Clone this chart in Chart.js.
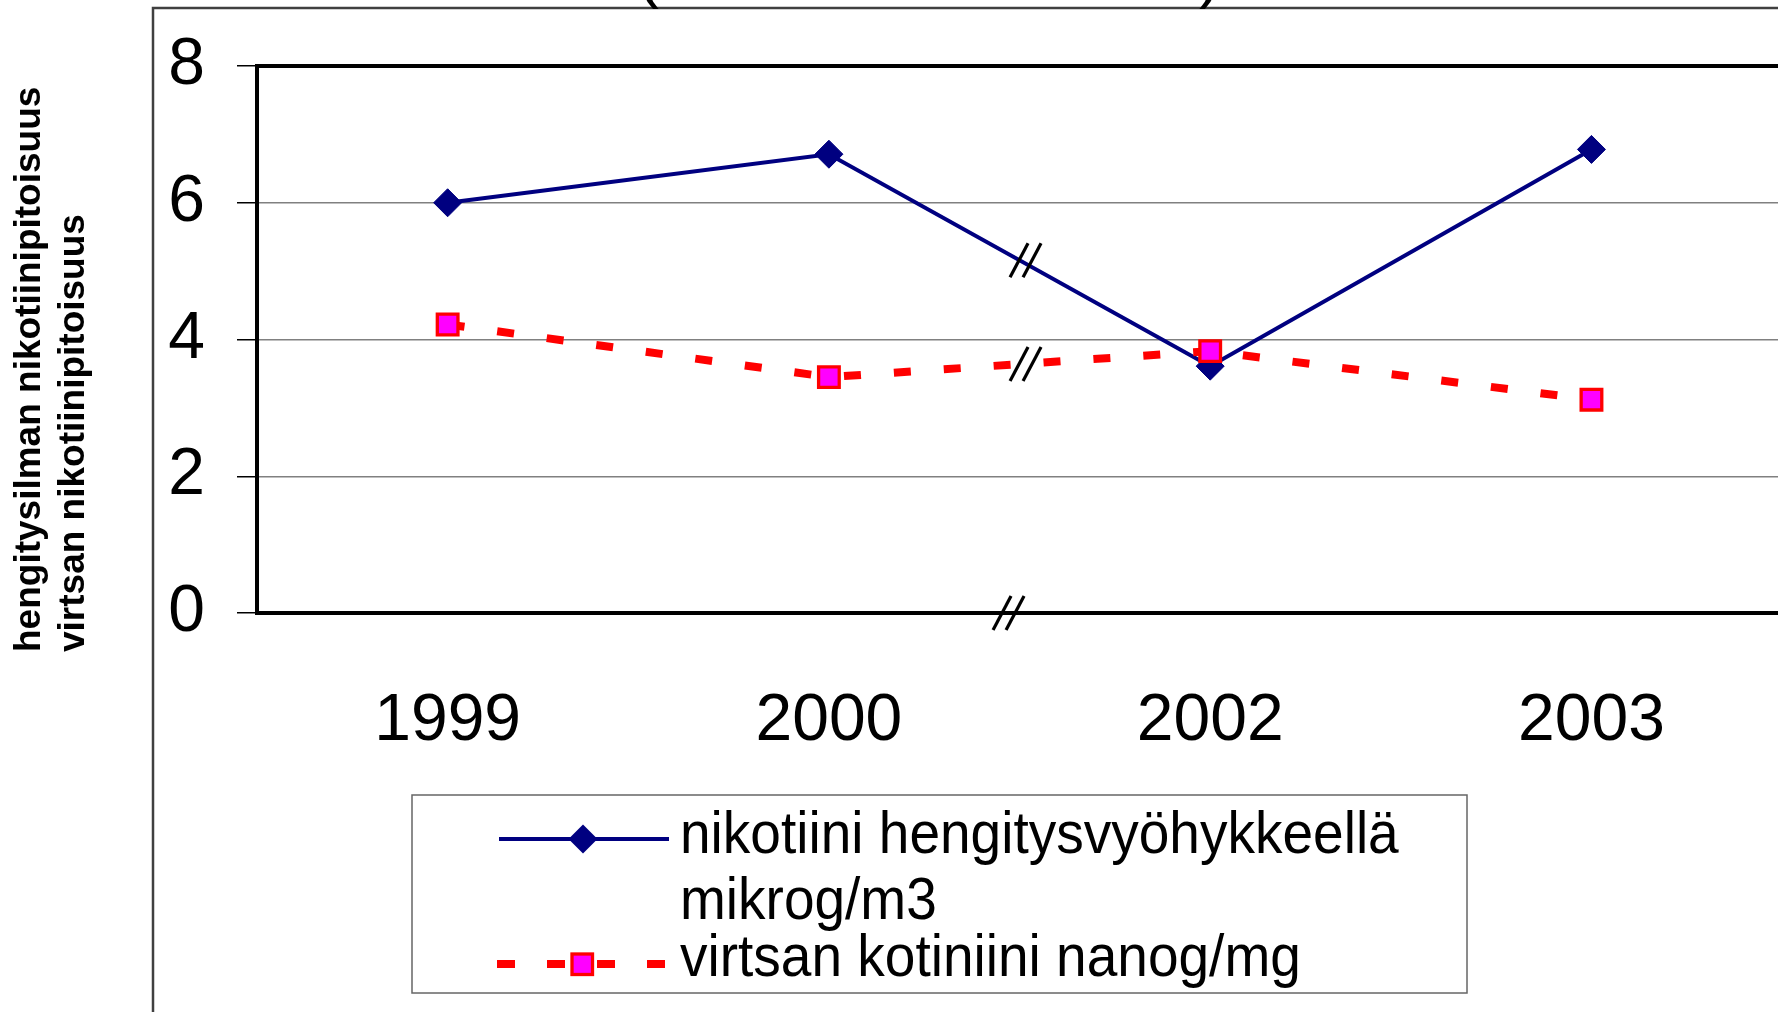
<!DOCTYPE html>
<html>
<head>
<meta charset="utf-8">
<script src="https://cdn.jsdelivr.net/npm/chart.js@4.4.1/dist/chart.umd.min.js"></script>
<style>
  html, body { margin: 0; padding: 0; background: #fff; overflow: hidden; }
  #wrap { width: 1800px; height: 1012px; }
</style>
</head>
<body>
<div id="wrap"><canvas id="chart" width="1800" height="1012"></canvas></div>
<script>
// data
const years = ["1999", "2000", "2002", "2003"];
const nicotineAir = [6.0, 6.71, 3.61, 6.78];
const cotinineUrine = [4.22, 3.45, 3.83, 3.12];
const yTicks = [0, 2, 4, 6, 8];
const nicotineLabel = ["nikotiini hengitysvyöhykkeellä", "mikrog/m3"];
const cotinineLabel = ["virtsan kotiniini nanog/mg"];
const yTitle = ["hengitysilman nikotiinipitoisuus", "virtsan nikotiinipitoisuus"];
const breakAfter = 1; // 2001 is missing between 2000 and 2002

const NAVY = "#000080";
const RED = "#ff0000";
const MAGENTA = "#ff00ff";
const FONT = "'Liberation Sans', Arial, sans-serif";

function diamond(ctx, x, y, r, fill) {
  ctx.beginPath();
  ctx.moveTo(x, y - r);
  ctx.lineTo(x + r, y);
  ctx.lineTo(x, y + r);
  ctx.lineTo(x - r, y);
  ctx.closePath();
  ctx.fillStyle = fill;
  ctx.fill();
}

function breakMark(ctx, cx, cy) {
  ctx.save();
  ctx.strokeStyle = "#000";
  ctx.lineWidth = 3.2;
  [-6.5, 6.5].forEach(dx => {
    ctx.beginPath();
    ctx.moveTo(cx + dx - 9, cy + 17);
    ctx.lineTo(cx + dx + 9, cy - 17);
    ctx.stroke();
  });
  ctx.restore();
}

const decorations = {
  id: "decorations",
  beforeDraw(chart) {
    const ctx = chart.ctx;
    ctx.save();
    ctx.fillStyle = "#fff";
    ctx.fillRect(0, 0, chart.width, chart.height);
    // outer chart frame (cropped)
    ctx.strokeStyle = "#404040";
    ctx.lineWidth = 2.5;
    ctx.beginPath();
    ctx.moveTo(153, chart.height);
    ctx.lineTo(153, 8);
    ctx.lineTo(chart.width, 8);
    ctx.stroke();
    // bottoms of the cropped title
    ctx.fillStyle = "#000";
    ctx.font = "66px " + FONT;
    ctx.textAlign = "center";
    ctx.textBaseline = "alphabetic";
    ctx.fillText("(", 648, -5);
    ctx.fillText(")", 1210, -5);
    ctx.restore();
  },
  afterDatasetsDraw(chart) {
    const ctx = chart.ctx;
    const a = chart.chartArea;
    const xs = chart.scales.x, ys = chart.scales.y;
    ctx.save();
    ctx.strokeStyle = "#000";
    ctx.lineWidth = 4;
    ctx.strokeRect(a.left, a.top, a.right - a.left, a.bottom - a.top);
    ctx.restore();

    const mx = (xs.getPixelForValue(breakAfter) + xs.getPixelForValue(breakAfter + 1)) / 2;
    [nicotineAir, cotinineUrine].forEach(s => {
      breakMark(ctx, mx + 6, ys.getPixelForValue((s[breakAfter] + s[breakAfter + 1]) / 2));
    });
    breakMark(ctx, mx - 11, a.bottom);
  },
  afterDraw(chart) {
    const ctx = chart.ctx;
    ctx.save();
    // y axis title, two rotated lines
    ctx.fillStyle = "#000";
    ctx.font = "bold 37px " + FONT;
    ctx.textAlign = "left";
    ctx.textBaseline = "alphabetic";
    [40, 84].forEach((bx, i) => {
      ctx.save();
      ctx.translate(bx, 652);
      ctx.rotate(-Math.PI / 2);
      ctx.fillText(yTitle[i], 0, 0);
      ctx.restore();
    });

    // legend box
    ctx.fillStyle = "#fff";
    ctx.fillRect(412, 795, 1055, 198);
    ctx.strokeStyle = "#666";
    ctx.lineWidth = 1.5;
    ctx.strokeRect(412, 795, 1055, 198);

    // navy sample
    ctx.strokeStyle = NAVY;
    ctx.lineWidth = 4;
    ctx.beginPath();
    ctx.moveTo(499, 839);
    ctx.lineTo(669, 839);
    ctx.stroke();
    diamond(ctx, 583, 839, 14.5, NAVY);

    // red sample
    ctx.strokeStyle = RED;
    ctx.lineWidth = 8;
    ctx.setLineDash([18, 32]);
    ctx.beginPath();
    ctx.moveTo(497, 964);
    ctx.lineTo(669, 964);
    ctx.stroke();
    ctx.setLineDash([]);
    ctx.fillStyle = MAGENTA;
    ctx.fillRect(572, 954, 20.5, 20.5);
    ctx.lineWidth = 3.3;
    ctx.strokeRect(572, 954, 20.5, 20.5);

    // legend text, condensed like the original
    ctx.fillStyle = "#000";
    ctx.font = "60px " + FONT;
    const lines = [[nicotineLabel[0], 853], [nicotineLabel[1], 919], [cotinineLabel[0], 976]];
    lines.forEach(([t, by]) => {
      ctx.save();
      ctx.translate(680, by);
      ctx.scale(0.917, 1);
      ctx.fillText(t, 0, 0);
      ctx.restore();
    });
    ctx.restore();
  }
};

new Chart(document.getElementById("chart"), {
  type: "line",
  data: {
    labels: years,
    datasets: [
      {
        label: nicotineLabel.join(" "),
        data: nicotineAir,
        borderColor: NAVY,
        borderWidth: 4,
        pointStyle: "rectRot",
        pointRadius: 14,
        pointBackgroundColor: NAVY,
        pointBorderColor: NAVY,
        pointBorderWidth: 1,
        tension: 0,
        order: 1
      },
      {
        label: cotinineLabel[0],
        data: cotinineUrine,
        borderColor: RED,
        borderWidth: 8,
        borderDash: [17, 33],
        borderCapStyle: "butt",
        pointStyle: "rect",
        pointRadius: 14.6,
        pointBackgroundColor: MAGENTA,
        pointBorderColor: RED,
        pointBorderWidth: 3.3,
        tension: 0,
        order: 0
      }
    ]
  },
  options: {
    responsive: false,
    animation: false,
    events: [],
    layout: { padding: { top: 66, right: 10, bottom: 0, left: 0 } },
    plugins: {
      legend: { display: false },
      tooltip: { enabled: false },
      title: { display: false }
    },
    scales: {
      x: {
        offset: true,
        grid: { display: false, drawTicks: false },
        border: { display: false },
        ticks: {
          color: "#000",
          font: { family: FONT, size: 66 },
          padding: 69,
          maxRotation: 0
        },
        afterFit(scale) { scale.height = 399; }
      },
      y: {
        min: 0,
        max: 8,
        afterBuildTicks(scale) { scale.ticks = yTicks.map(v => ({ value: v })); },
        grid: { color: "#808080", lineWidth: 1.5, tickLength: 20, tickColor: "#000", tickWidth: 1.5 },
        border: { display: false },
        ticks: {
          color: "#000",
          font: { family: FONT, size: 66, lineHeight: 1 },
          padding: 32
        },
        afterFit(scale) { scale.width = 257; }
      }
    }
  },
  plugins: [decorations]
});
</script>
</body>
</html>
